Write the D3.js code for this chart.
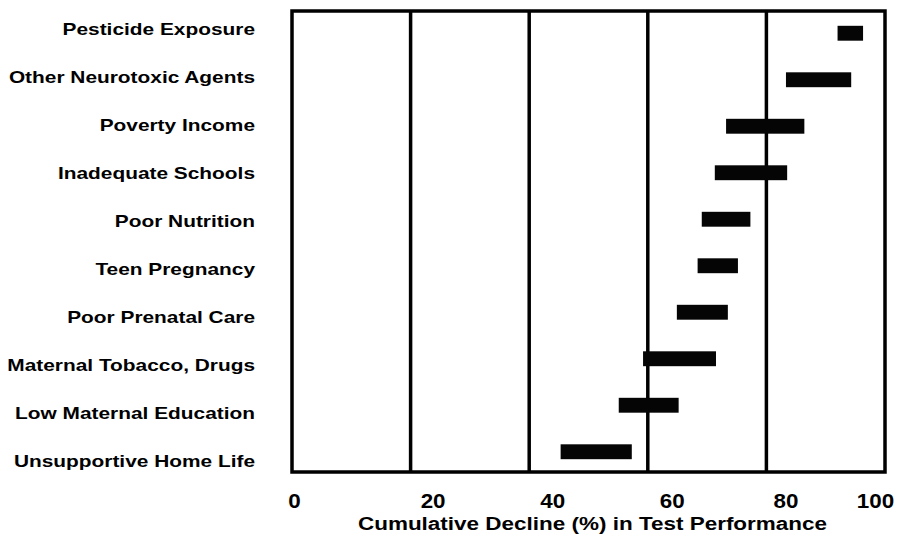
<!DOCTYPE html>
<html lang="en">
<head>
  <meta charset="UTF-8">
  <title>Cumulative Decline in Test Performance</title>
  <script src="https://d3js.org/d3.v7.min.js"></script>
  <style>
    body {
      margin: 0;
      background: white;
    }
    svg {
      display: block;
      font-family: "Liberation Sans", Arial, sans-serif;
      font-weight: bold;
    }
    .label {
      font-size: 16.3px;
      text-anchor: end;
    }
    .tick text {
      font-size: 20px;
      font-weight: bold;
      font-family: "Liberation Sans", Arial, sans-serif;
    }
    .title {
      font-size: 18.5px;
      text-anchor: middle;
    }
  </style>
</head>
<body>
  <svg id="chart"></svg>
  <script>
    // factors, top to bottom
    const factors = [
      "Pesticide Exposure",
      "Other Neurotoxic Agents",
      "Poverty Income",
      "Inadequate Schools",
      "Poor Nutrition",
      "Teen Pregnancy",
      "Poor Prenatal Care",
      "Maternal Tobacco, Drugs",
      "Low Maternal Education",
      "Unsupportive Home Life"
    ];
    // start and end of each bar (% decline)
    const starts = [92.0, 83.3, 73.2, 71.3, 69.1, 68.4, 64.9, 59.2, 55.1, 45.3];
    const ends   = [96.3, 94.3, 86.4, 83.5, 77.3, 75.2, 73.5, 71.5, 65.2, 57.3];
    const xTicks = [0, 20, 40, 60, 80, 100];
    const gridValues = [20, 40, 60, 80];

    const width = 897;
    const height = 536;
    const frameTop = 11;
    const frameBottom = 472;

    const svg = d3.select("#chart")
      .attr("width", width)
      .attr("height", height);

    const x = d3.scaleLinear().domain([0, 100]).range([292, 885]);

    const yBar = d3.scaleBand()
      .domain(factors)
      .range([frameTop - 1, frameBottom + 3])
      .paddingInner(0.68)
      .paddingOuter(0.34);

    const yLabel = d3.scalePoint()
      .domain(factors)
      .range([4.8, 484.8])
      .padding(0.5);

    const data = factors.map((f, i) => ({ factor: f, start: starts[i], end: ends[i] }));

    // grid lines
    svg.selectAll(".grid")
      .data(gridValues)
      .join("line")
        .attr("class", "grid")
        .attr("x1", d => x(d))
        .attr("x2", d => x(d))
        .attr("y1", frameTop)
        .attr("y2", frameBottom)
        .attr("stroke", "#000")
        .attr("stroke-width", 3.5);

    // frame
    svg.append("rect")
      .attr("x", x(0))
      .attr("y", frameTop)
      .attr("width", x(100) - x(0))
      .attr("height", frameBottom - frameTop)
      .attr("fill", "none")
      .attr("stroke", "#000")
      .attr("stroke-width", 3.5);

    // bars
    svg.selectAll(".bar")
      .data(data)
      .join("rect")
        .attr("class", "bar")
        .attr("x", d => x(d.start))
        .attr("y", d => yBar(d.factor))
        .attr("width", d => x(d.end) - x(d.start))
        .attr("height", yBar.bandwidth())
        .attr("fill", "#050505");

    // category labels (the original is stretched sideways)
    svg.selectAll(".label")
      .data(factors)
      .join("text")
        .attr("class", "label")
        .attr("transform", d => `translate(255,${yLabel(d)}) scale(1.28,1)`)
        .attr("dy", "0.36em")
        .text(d => d);

    // x axis labels, nudged like the source figure
    const tickNudge = { 0: 2, 20: 22, 40: 23, 60: 24, 80: 19, 100: -10 };
    const xAxis = svg.append("g")
      .attr("transform", `translate(0,${frameBottom})`)
      .call(d3.axisBottom(x).tickValues(xTicks).tickSize(0).tickPadding(22));
    xAxis.select(".domain").remove();
    xAxis.selectAll(".tick text")
      .attr("fill", "#000")
      .attr("transform", d => `translate(${tickNudge[d]},0) scale(1.12,1)`);

    svg.append("text")
      .attr("class", "title")
      .attr("transform", "translate(592.5,530) scale(1.215,1)")
      .text("Cumulative Decline (%) in Test Performance");
  </script>
</body>
</html>
